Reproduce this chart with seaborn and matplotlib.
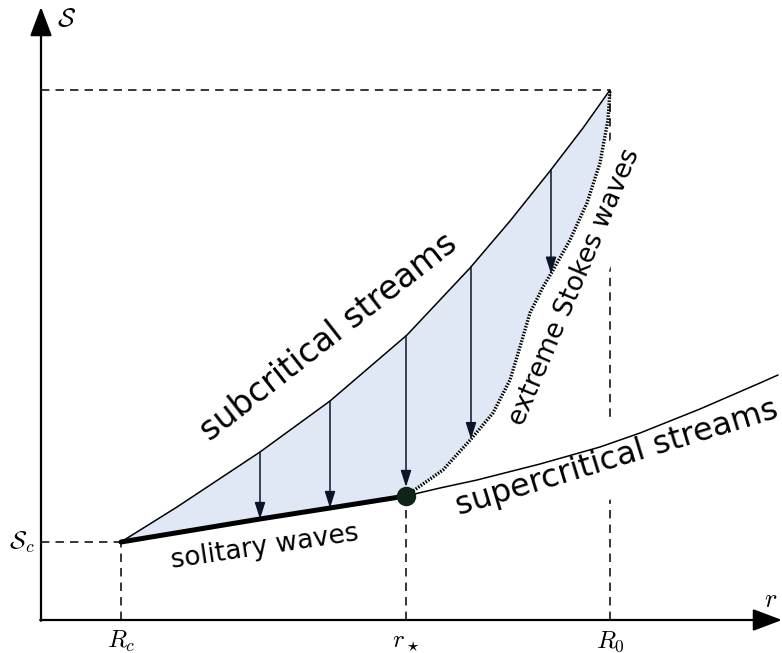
import numpy as np
import matplotlib
matplotlib.use("Agg")
import matplotlib.pyplot as plt
import seaborn as sns
import pandas as pd

# ---- data (schematic values) ----
Rc, Sc = 0.80, 0.78
r_star, S_star = 3.65, 1.24
R0, S0 = 5.69, 5.30

sub_r = [0.80, 1.36, 2.19, 2.89, 3.66, 4.29, 4.69, 5.09, 5.42, 5.69]
sub_S = [0.78, 1.13, 1.68, 2.19, 2.85, 3.52, 3.99, 4.49, 4.92, 5.30]

sol_r = [0.80, 2.19, 2.89, 3.65]
sol_S = [0.78, 1.01, 1.12, 1.24]

ext_r = [3.65, 4.02, 4.31, 4.52, 4.69, 4.79, 4.89, 5.02, 5.11, 5.29, 5.46, 5.59, 5.67, 5.69]
ext_S = [1.24, 1.50, 1.82, 2.07, 2.40, 2.73, 3.07, 3.33, 3.48, 3.80, 4.17, 4.57, 5.00, 5.30]

sup_r = [3.65, 3.99, 4.36, 4.99, 5.59, 5.99, 6.59, 7.19, 7.37]
sup_S = [1.24, 1.32, 1.40, 1.56, 1.73, 1.87, 2.11, 2.37, 2.45]

arrow_r = [2.19, 2.89, 3.65, 4.30, 5.10]

tick_pos = [Rc, r_star, R0]
tick_labels = [r"$R_c$", r"$r_\star$", r"$R_0$"]

# ---- style ----
sns.set_theme(style="white")
plt.rcParams["font.family"] = ["DejaVu Sans"]
plt.rcParams["mathtext.fontset"] = "cm"
plt.rcParams["text.color"] = "black"

fig = plt.figure(figsize=(7.82, 6.53), dpi=100)
ax = fig.add_axes([0, 0, 1, 1])
ax.set_xlim(-0.41, 7.41)
ax.set_ylim(-0.33, 6.20)
ax.axis("off")

dash = dict(color="black", lw=1.1, linestyle=(0, (5.5, 4.0)), zorder=1)
# dashed guides
ax.plot([0, R0], [S0, S0], **dash)
ax.plot([R0, R0], [0, S0], **dash)
ax.plot([0, Rc], [Sc, Sc], **dash)
ax.plot([Rc, Rc], [0, Sc], **dash)
ax.plot([r_star, r_star], [0, S_star], **dash)

# shaded region
low_r = sol_r + ext_r[1:]
low_S = sol_S + ext_S[1:]
poly_r = sub_r + low_r[::-1]
poly_S = sub_S + low_S[::-1]
ax.fill(poly_r, poly_S, color="#e1e8f5", lw=0, zorder=3)

# curves
df_sub = pd.DataFrame({"r": sub_r, "S": sub_S})
df_sup = pd.DataFrame({"r": sup_r, "S": sup_S})
df_sol = pd.DataFrame({"r": sol_r, "S": sol_S})
sns.lineplot(data=df_sub, x="r", y="S", sort=False, color="black", lw=1.1, ax=ax, zorder=4)
sns.lineplot(data=df_sup, x="r", y="S", sort=False, color="black", lw=1.1, ax=ax, zorder=4)
sns.lineplot(data=df_sol, x="r", y="S", sort=False, color="black", lw=3.6, ax=ax, zorder=4,
             solid_capstyle="round")
ax.plot(ext_r, ext_S, color="black", lw=2.4, linestyle=(0, (0.45, 0.45)), zorder=4)

# arrows from subcritical curve down to lower boundary
for ar in arrow_r:
    top = np.interp(ar, sub_r, sub_S)
    bot = np.interp(ar, low_r, low_S)
    shrinkB = 6.5 if abs(ar - r_star) < 1e-6 else 0
    ax.annotate("", xy=(ar, bot), xytext=(ar, top),
                arrowprops=dict(arrowstyle="-|>,head_length=1.0,head_width=0.32",
                                color="#0b1429", lw=1.1, shrinkA=0, shrinkB=shrinkB,
                                mutation_scale=10),
                zorder=5)

# junction point
ax.plot([r_star], [S_star], "o", ms=13, color="#0f2418", zorder=6)

# coordinate axes with arrows
head = "-|>,head_length=1.8,head_width=0.68"
ax.annotate("", xy=(0, 6.13), xytext=(0, -0.008),
            arrowprops=dict(arrowstyle=head, color="black", lw=1.6,
                            shrinkA=0, shrinkB=0, mutation_scale=10),
            zorder=7)
ax.annotate("", xy=(7.41, 0), xytext=(-0.008, 0),
            arrowprops=dict(arrowstyle=head, color="black", lw=1.6,
                            shrinkA=0, shrinkB=0, mutation_scale=10),
            zorder=7)

# axis labels
ax.text(0.16, 6.01, r"$\mathcal{S}$", fontsize=19, ha="left", va="center")
ax.text(7.30, 0.20, r"$r$", fontsize=19, ha="center", va="center")
for p, lab in zip(tick_pos, tick_labels):
    ax.text(p, -0.09, lab, fontsize=18, ha="center", va="top")
ax.text(-0.06, Sc, r"$\mathcal{S}_c$", fontsize=18, ha="right", va="center")

# curve labels
ax.text(2.88, 2.83, "subcritical streams", fontsize=24, rotation=38,
        ha="center", va="center", rotation_mode="anchor", zorder=2)
ax.text(5.76, 1.62, "supercritical streams", fontsize=23, rotation=17,
        ha="center", va="center", rotation_mode="anchor", zorder=2,
        bbox=dict(boxstyle="square,pad=0.7", fc="white", ec="none"))
ax.text(2.24, 0.73, "solitary waves", fontsize=19, rotation=8.5,
        ha="center", va="center", rotation_mode="anchor", zorder=2)
ax.text(5.34, 3.33, "extreme Stokes waves", fontsize=19, rotation=67,
        ha="center", va="center", rotation_mode="anchor", zorder=2,
        bbox=dict(boxstyle="square,pad=0.45", fc="white", ec="none"))

fig.savefig("out.png", dpi=100)
